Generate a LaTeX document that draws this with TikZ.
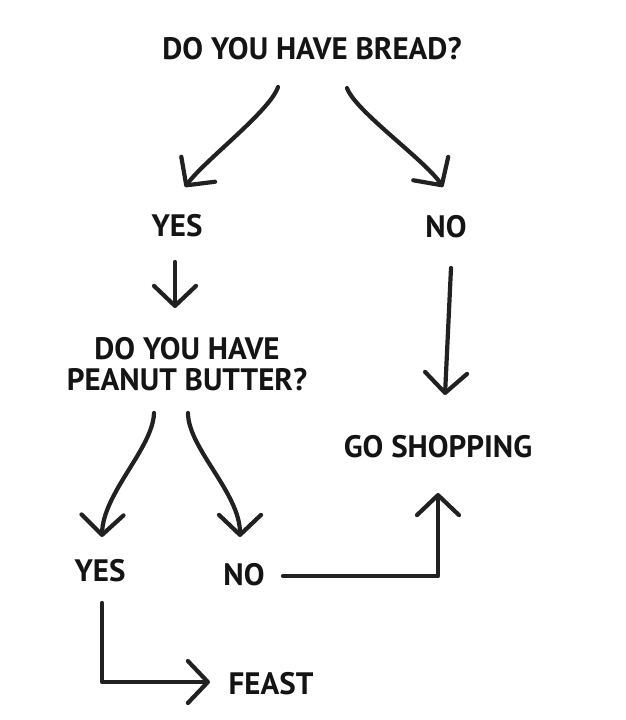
\documentclass[tikz,border=0pt]{standalone}
\usepackage{fontspec}
\setmainfont{PT Sans}
\usetikzlibrary{arrows.meta,calc}
\begin{document}
\begin{tikzpicture}[x=1pt,y=-1pt,
  lbl/.style={inner sep=0pt,font=\fontsize{31}{31}\selectfont\bfseries,text=black!92},
  arr/.style={draw=black!87,line width=4.2pt,line cap=round,line join=round,
    -{Straight Barb[length=20pt,width=42pt,round]}}]
\useasboundingbox (0,0) rectangle (625,720);
\fill[white] (0,0) rectangle (625,720);
\node[lbl] (bread) at (312,49) {DO YOU HAVE BREAD?};
\node[lbl] (yes1) at (177,226) {YES};
\node[lbl] (no1) at (446,227) {NO};
\node[lbl,align=center] (pb) at (187,364) {DO YOU HAVE\\PEANUT BUTTER?};
\node[lbl] (gs) at (438,447) {GO SHOPPING};
\node[lbl] (yes2) at (100,571) {YES};
\node[lbl] (no2) at (244,575) {NO};
\node[lbl] (feast) at (271,684) {FEAST};
% connectors
\draw[arr] ($(bread)+(-34,38)$) .. controls ($(bread)+(-42,62)$) and ($(yes1)+(28,-66)$) .. ($(yes1)+(8,-39)$);
\draw[arr] ($(bread)+(35,39)$) .. controls ($(bread)+(43,62)$) and ($(no1)+(-21,-67)$) .. ($(no1)+(-3,-40)$);
\draw[arr] ($(yes1)+(-2,36)$) -- ($(pb)+(-12,-56)$);
\draw[arr] ($(no1)+(5,41)$) -- ($(gs)+(7,-52)$);
\draw[arr] ($(pb)+(-33,49)$) .. controls ($(pb)+(-34,84)$) and ($(yes2)+(3,-78)$) .. ($(yes2)+(2,-34)$);
\draw[arr] ($(pb)+(1,49)$) .. controls ($(pb)+(1,84)$) and ($(no2)+(-4,-82)$) .. ($(no2)+(-4,-38)$);
\draw[arr] ($(no2)+(39,1)$) -| ($(gs)+(0,46)$);
\draw[arr] ($(yes2)+(2,32)$) |- ($(feast)+(-61,-2)$);
\end{tikzpicture}
\end{document}
